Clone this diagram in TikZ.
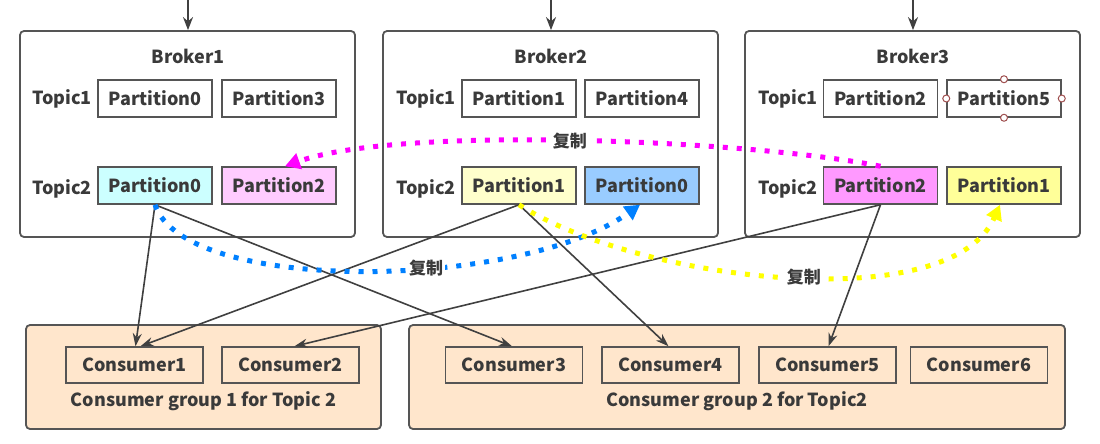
\documentclass[tikz,border=0pt]{standalone}
\usepackage{fontspec}
\setmainfont{Noto Sans CJK SC}
\usetikzlibrary{arrows.meta}
\definecolor{txt}{HTML}{3A3A3A}
\definecolor{edge}{HTML}{555555}
\definecolor{conn}{HTML}{404040}
\definecolor{pcyan}{HTML}{CCFFFF}
\definecolor{ppink}{HTML}{FFCCFF}
\definecolor{pcream}{HTML}{FFFFCC}
\definecolor{pblue}{HTML}{99CCFF}
\definecolor{pmag}{HTML}{FF99FF}
\definecolor{pyel}{HTML}{FFFF99}
\definecolor{peach}{HTML}{FFE6CC}
\definecolor{cmag}{HTML}{FF00FF}
\definecolor{cblue}{HTML}{0080FF}
\definecolor{cyel}{HTML}{FFFF00}
\definecolor{handle}{HTML}{A05050}
\tikzset{
  brokerbox/.style={draw=edge,line width=1.8pt,rounded corners=4pt,minimum width=335pt,minimum height=206pt,inner sep=0pt},
  groupbox/.style={draw=edge,line width=1.8pt,rounded corners=4pt,fill=peach,minimum height=104pt,inner sep=0pt},
  partbox/.style={draw=edge,line width=1.5pt,fill=white,minimum width=114pt,minimum height=37pt,inner sep=0pt,font=\fontsize{18}{20}\selectfont\bfseries,text=txt},
  consbox/.style={draw=edge,line width=1.5pt,minimum width=137pt,minimum height=36pt,inner sep=0pt,font=\fontsize{18}{20}\selectfont\bfseries,text=txt},
  lbl/.style={font=\fontsize{18}{20}\selectfont\bfseries,text=txt,inner sep=0pt},
  cnlbl/.style={font=\fontsize{17}{19}\selectfont\bfseries,text=txt,fill=white,inner sep=1.5pt},
  conn/.style={draw=conn,line width=1.6pt,-{Stealth[length=13pt,width=9pt]}},
  toparrow/.style={draw=conn,line width=1.8pt,-{Stealth[length=13pt,width=10pt]}},
  repl/.style={line width=5pt,dash pattern=on 5pt off 9pt},
  handlec/.style={circle,draw=handle,fill=white,line width=1pt,minimum size=7pt,inner sep=0pt}
}
\begin{document}
\begin{tikzpicture}[x=1pt,y=-1pt]
\useasboundingbox (0,0) rectangle (1100,444);
% brokers
\node[brokerbox] (b1) at (187.5,134) {};
\node[brokerbox] (b2) at (550.5,134) {};
\node[brokerbox] (b3) at (912.5,134) {};
\node[lbl] (b1l) at (188,56) {Broker1};
\node[lbl] (b2l) at (551,56) {Broker2};
\node[lbl] (b3l) at (913,56) {Broker3};
% top arrows
\coordinate (t1) at (188,0);
\coordinate (t2) at (551,0);
\coordinate (t3) at (913,0);
\draw[toparrow] (t1) -- (t1 |- b1.north);
\draw[toparrow] (t2) -- (t2 |- b2.north);
\draw[toparrow] (t3) -- (t3 |- b3.north);
% topic labels
\node[lbl] (b1t1) at (62,99) {Topic1};
\node[lbl] (b1t2) at (62,189) {Topic2};
\node[lbl] (b2t1) at (426,99) {Topic1};
\node[lbl] (b2t2) at (426,189) {Topic2};
\node[lbl] (b3t1) at (788,99) {Topic1};
\node[lbl] (b3t2) at (788,189) {Topic2};
% partitions
\node[partbox] (p1a) at (155,98.5) {Partition0};
\node[partbox] (p1b) at (279,98.5) {Partition3};
\node[partbox,fill=pcyan] (q1a) at (155,185.5) {Partition0};
\node[partbox,fill=ppink] (q1b) at (279,185.5) {Partition2};
\node[partbox] (p2a) at (519,98.5) {Partition1};
\node[partbox] (p2b) at (642,98.5) {Partition4};
\node[partbox,fill=pcream] (q2a) at (519,185.5) {Partition1};
\node[partbox,fill=pblue] (q2b) at (642,185.5) {Partition0};
\node[partbox] (p3a) at (880.5,98.5) {Partition2};
\node[partbox] (p3b) at (1004,98.5) {Partition5};
\node[partbox,fill=pmag] (q3a) at (880.5,185.5) {Partition2};
\node[partbox,fill=pyel] (q3b) at (1004,185.5) {Partition1};
\node[handlec] (h1) at (p3b.north) {};
\node[handlec] (h2) at (p3b.south) {};
\node[handlec] (h3) at (p3b.west) {};
\node[handlec] (h4) at (p3b.east) {};
% consumer groups
\node[groupbox,minimum width=355pt] (g1) at (203.5,377) {};
\node[groupbox,minimum width=656pt] (g2) at (737,377) {};
\node[consbox] (c1) at (134.5,365) {Consumer1};
\node[consbox] (c2) at (290.5,365) {Consumer2};
\node[consbox] (c3) at (514,365) {Consumer3};
\node[consbox] (c4) at (670.5,365) {Consumer4};
\node[consbox] (c5) at (827.5,365) {Consumer5};
\node[consbox] (c6) at (979,365) {Consumer6};
\node[lbl] (g1l) at (203.5,401) {Consumer group 1 for Topic 2};
\node[lbl] (g2l) at (737,401) {Consumer group 2 for Topic2};
% consumption arrows
\draw[conn] (q1a.south) -- ([xshift=1pt]c1.north);
\draw[conn] (q1a.south) -- ([xshift=-2pt]c3.north);
\draw[conn] (q2a.south) -- ([xshift=6pt]c1.north);
\draw[conn] (q2a.south) -- ([xshift=-2pt]c4.north);
\draw[conn] (q3a.south) -- ([xshift=4pt]c2.north);
\draw[conn] (q3a.south) -- ([xshift=1pt]c5.north);
% replication curves
\draw[repl,draw=cmag,-{Triangle[length=15pt,width=16pt,fill=cmag]}] (q3a.north) .. controls (750,140) and (400,125) .. ([xshift=6pt]q1b.north)
  node[cnlbl,pos=0.51] (r1) {复制};
\draw[repl,draw=cblue,-{Triangle[length=15pt,width=16pt,fill=cblue]}] (q1a.south) .. controls (185,295) and (520,290) .. ([xshift=-2pt]q2b.south)
  node[cnlbl,pos=0.6] (r2) {复制};
\draw[repl,draw=cyel,-{Triangle[length=15pt,width=16pt,fill=cyel]}] (q2a.south) .. controls (640,282) and (950,318) .. ([xshift=-4pt]q3b.south)
  node[cnlbl,pos=0.53] (r3) {复制};
\end{tikzpicture}
\end{document}
